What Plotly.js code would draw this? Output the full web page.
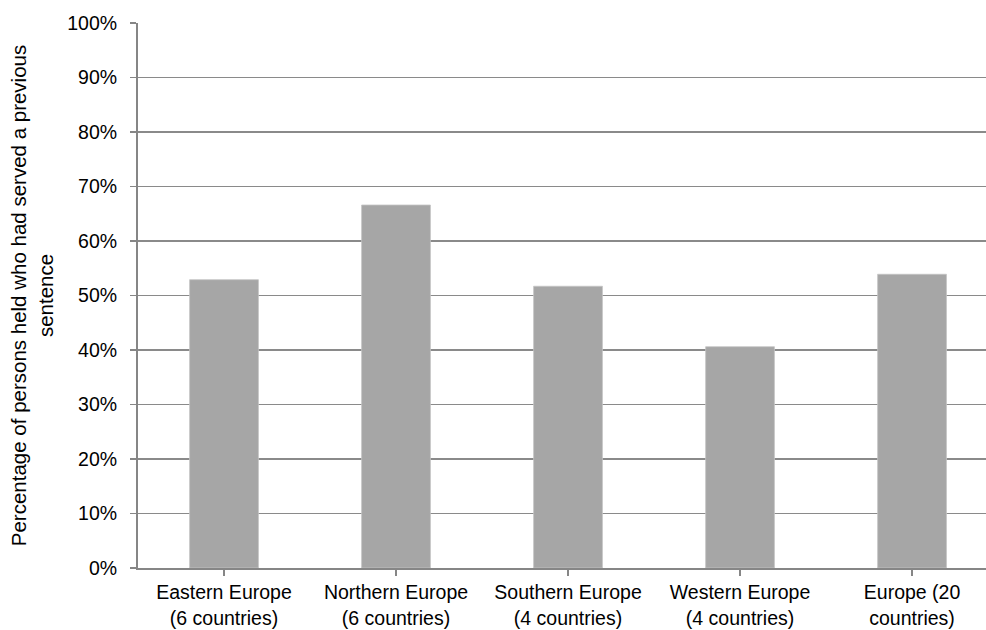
<!DOCTYPE html>
<html>
<head>
<meta charset="utf-8">
<script src="https://cdn.plot.ly/plotly-3.0.1.min.js"></script>
<style>html,body{margin:0;padding:0;background:#fff;}#chart{width:986px;height:630px;}</style>
</head>
<body>
<div id="chart"></div>
<script>
const categories = [
  "Eastern Europe<br>(6 countries)",
  "Northern Europe<br>(6 countries)",
  "Southern Europe<br>(4 countries)",
  "Western Europe<br>(4 countries)",
  "Europe (20<br>countries)"
];
const values = [0.529, 0.666, 0.517, 0.406, 0.539];
const yTickVals = [0, 0.1, 0.2, 0.3, 0.4, 0.5, 0.6, 0.7, 0.8, 0.9, 1.0];
const yTickText = ["0%", "10%", "20%", "30%", "40%", "50%", "60%", "70%", "80%", "90%", "100%"];
const yTitle = "Percentage of persons held who had served a previous<br>sentence";

const fam = "Liberation Sans, Arial, sans-serif";
const font = {family: fam, size: 19.5, color: "#000"};
const titleFont = {family: fam, size: 20.5, color: "#000"};

const trace = {
  type: "bar",
  x: categories.map((c, i) => i),
  y: values,
  marker: {color: "#a6a6a6", line: {color: "#c4c4c4", width: 0.8}},
  hoverinfo: "skip"
};

const layout = {
  width: 986, height: 630,
  margin: {l: 138, r: 0, t: 23, b: 62},
  paper_bgcolor: "#fff", plot_bgcolor: "#fff",
  font: font,
  showlegend: false,
  bargap: 0.6,
  xaxis: {
    range: [-0.5, 4.43],
    tickmode: "array",
    tickvals: categories.map((c, i) => i),
    ticktext: categories,
    tickson: "boundaries",
    ticks: "outside", ticklen: 6, tickwidth: 1.5, tickcolor: "#868686",
    showline: true, linecolor: "#868686", linewidth: 2,
    showgrid: false, zeroline: false,
    tickfont: font,
    fixedrange: true
  },
  yaxis: {
    range: [0, 1],
    tickmode: "array",
    tickvals: yTickVals,
    ticktext: yTickText,
    ticks: "outside", ticklen: 6, tickwidth: 1.5, tickcolor: "#868686",
    ticklabelstandoff: 9,
    showline: true, linecolor: "#868686", linewidth: 2,
    showgrid: true, gridcolor: "#8a8a8a", gridwidth: 1.5,
    zeroline: false,
    tickfont: font,
    title: {text: yTitle, font: titleFont, standoff: 8},
    automargin: false,
    fixedrange: true
  }
};

Plotly.newPlot("chart", [trace], layout, {displayModeBar: false, staticPlot: true});
</script>
</body>
</html>
